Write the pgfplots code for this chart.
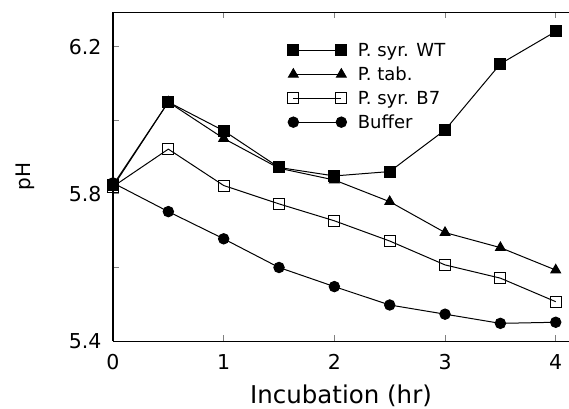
\documentclass[border=0pt]{standalone}
\usepackage{fontspec}
\setmainfont{DejaVu Sans}
\usepackage{pgfplots}
\pgfplotsset{compat=1.18}
\begin{document}
\begin{tikzpicture}
\begin{axis}[
  scale only axis, width=456pt, height=329pt,
  xmin=0, xmax=4.12, ymin=5.4, ymax=6.295,
  axis x line*=box, axis y line*=left,
  axis line style={line width=1pt},
  tick align=inside, major tick length=6pt,
  tick style={line width=1pt},
  xtick={0,1,2,3,4},
  ytick={5.4,5.6,5.8,6.0,6.2},
  yticklabels={5.4,,5.8,,6.2},
  /pgf/number format/assume math mode=true,
  xticklabel style={font=\fontsize{20.5}{24}\selectfont, yshift=-10pt},
  yticklabel style={font=\fontsize{20.5}{24}\selectfont, xshift=-8pt},
  xlabel={Incubation (hr)}, ylabel={pH},
  ylabel style={at={(axis description cs:-0.193,0.5)}, anchor=center, font=\fontsize{20}{24}\selectfont},
  xlabel style={at={(axis description cs:0.5,-0.19)}, anchor=base, font=\fontsize{24.5}{28}\selectfont},
  every axis plot/.append style={black, line width=1pt},
  legend style={draw=none, fill=none, at={(axis description cs:0.383,0.912)}, anchor=north west,
    font=\fontsize{18}{21}\selectfont, row sep=5pt, inner sep=0pt,
    /tikz/every odd column/.append style={column sep=9pt}},
  legend cell align=left,
  legend image code/.code={\draw[#1] plot coordinates {(0pt,0pt) (48pt,0pt)};},
  clip=false,
]
\addplot[mark=square*, mark size=5.5pt] coordinates {
(0,5.824) (0.5,6.05) (1,5.972) (1.5,5.872) (2,5.849) (2.5,5.861) (3,5.974) (3.5,6.154) (4,6.242)};
\addlegendentry{P. syr. WT}
\addplot[mark=triangle*, mark size=5.6pt] coordinates {
(0,5.82) (0.5,6.05) (1,5.951) (1.5,5.87) (2,5.838) (2.5,5.779) (3,5.695) (3.5,5.654) (4,5.593)};
\addlegendentry{P. tab.}
\addplot[mark=square, mark size=5.5pt, mark options={fill=white, line width=1pt}] coordinates {
(0,5.82) (0.5,5.922) (1,5.823) (1.5,5.773) (2,5.727) (2.5,5.672) (3,5.607) (3.5,5.571) (4,5.507)};
\addlegendentry{P. syr. B7}
\addplot[mark=*, mark size=5.2pt] coordinates {
(0,5.83) (0.5,5.752) (1,5.678) (1.5,5.6) (2,5.548) (2.5,5.498) (3,5.473) (3.5,5.448) (4,5.451)};
\addlegendentry{Buffer}
\end{axis}
\pgfresetboundingbox
\path ([shift={(-113pt,-67pt)}]current axis.south west) rectangle ([shift={(0pt,12pt)}]current axis.north east);
\end{tikzpicture}
\end{document}
